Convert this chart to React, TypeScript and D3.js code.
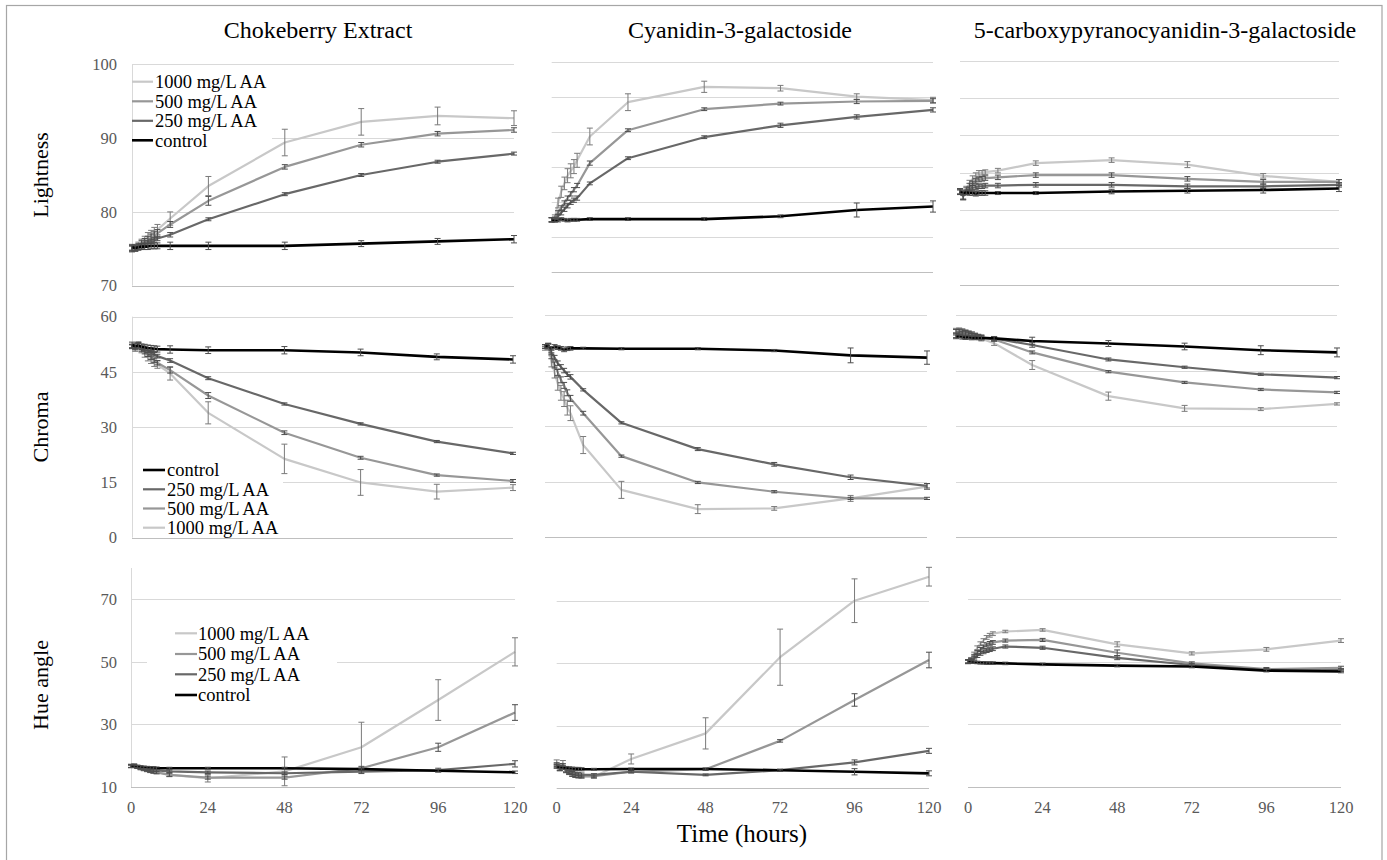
import React, { useEffect, useRef } from "react";
import * as d3 from "d3";

// sampling times (hours)
const times = [0, 1, 2, 3, 4, 5, 6, 7, 8, 12, 24, 48, 72, 96, 120];
const xTicks = [0, 24, 48, 72, 96, 120];

const columns = ["Chokeberry Extract", "Cyanidin-3-galactoside", "5-carboxypyranocyanidin-3-galactoside"];
const rows = ["Lightness", "Chroma", "Hue angle"];
const seriesNames = ["1000 mg/L AA", "500 mg/L AA", "250 mg/L AA", "control"];
const seriesColors = ["#c8c8c8", "#979797", "#686868", "#000000"];

// ---- Lightness ----
const lightCE1000 = [75.0, 75.1, 75.4, 75.8, 76.2, 76.6, 76.9, 77.2, 77.6, 79.1, 83.5, 89.4, 92.2, 93.0, 92.7];
const lightCE500 = [75.0, 75.1, 75.3, 75.6, 75.9, 76.2, 76.5, 76.8, 77.1, 78.3, 81.5, 86.1, 89.1, 90.6, 91.1];
const lightCE250 = [75.1, 75.0, 75.2, 75.4, 75.6, 75.8, 76.0, 76.2, 76.4, 76.9, 79.0, 82.4, 85.0, 86.8, 87.9];
const lightCEctl = [75.2, 75.1, 75.2, 75.3, 75.3, 75.3, 75.4, 75.4, 75.4, 75.4, 75.4, 75.4, 75.7, 76.0, 76.3];
const lightCE1000sd = [0.4, 0.4, 0.5, 0.5, 0.5, 0.6, 0.6, 0.7, 0.7, 0.9, 1.3, 1.8, 1.8, 1.2, 1.0];
const lightCE500sd = [0.4, 0.4, 0.4, 0.5, 0.5, 0.5, 0.5, 0.5, 0.5, 0.4, 0.6, 0.3, 0.3, 0.3, 0.3];
const lightCE250sd = [0.3, 0.3, 0.3, 0.3, 0.3, 0.3, 0.3, 0.3, 0.3, 0.3, 0.2, 0.2, 0.2, 0.2, 0.2];
const lightCEctlsd = [0.4, 0.4, 0.4, 0.4, 0.4, 0.4, 0.4, 0.4, 0.4, 0.5, 0.5, 0.5, 0.4, 0.4, 0.5];

const lightCy1000 = [77.5, 77.8, 79.9, 81.5, 82.7, 83.8, 84.5, 85.1, 86.0, 89.4, 94.3, 96.5, 96.3, 95.1, 94.6];
const lightCy500 = [77.5, 77.6, 78.5, 79.2, 79.9, 80.6, 81.2, 81.8, 82.4, 85.6, 90.3, 93.3, 94.1, 94.4, 94.5];
const lightCy250 = [77.5, 77.5, 78.0, 78.5, 79.0, 79.5, 80.0, 80.3, 80.6, 82.7, 86.3, 89.3, 91.0, 92.2, 93.2];
const lightCyctl = [77.5, 77.4, 77.4, 77.6, 77.5, 77.4, 77.5, 77.5, 77.5, 77.6, 77.6, 77.6, 78.0, 78.9, 79.4];
const lightCy1000sd = [0.3, 0.4, 0.7, 0.8, 0.9, 1.0, 1.0, 1.0, 1.0, 1.2, 1.2, 0.8, 0.4, 0.4, 0.4];
const lightCy500sd = [0.3, 0.3, 0.3, 0.3, 0.3, 0.3, 0.3, 0.3, 0.3, 0.3, 0.2, 0.2, 0.2, 0.3, 0.3];
const lightCy250sd = [0.3, 0.3, 0.3, 0.3, 0.3, 0.3, 0.3, 0.3, 0.3, 0.2, 0.2, 0.2, 0.3, 0.3, 0.3];
const lightCyctlsd = [0.3, 0.2, 0.2, 0.2, 0.2, 0.2, 0.2, 0.2, 0.2, 0.2, 0.2, 0.2, 0.2, 1.0, 0.8];

const lightPy1000 = [82.5, 81.9, 82.8, 83.6, 84.2, 84.6, 84.9, 85.0, 85.1, 85.3, 86.3, 86.7, 86.1, 84.6, 83.8];
const lightPy500 = [82.5, 81.9, 82.6, 83.2, 83.6, 83.9, 84.1, 84.2, 84.3, 84.4, 84.7, 84.7, 84.2, 83.8, 83.8];
const lightPy250 = [82.4, 81.9, 82.4, 82.8, 83.0, 83.1, 83.2, 83.2, 83.3, 83.3, 83.4, 83.4, 83.2, 83.2, 83.4];
const lightPyctl = [82.5, 82.3, 82.4, 82.3, 82.3, 82.2, 82.3, 82.3, 82.3, 82.3, 82.3, 82.5, 82.6, 82.7, 82.9];
const lightPy1000sd = [0.4, 0.5, 0.4, 0.4, 0.4, 0.4, 0.4, 0.3, 0.3, 0.3, 0.3, 0.3, 0.4, 0.3, 0.3];
const lightPy500sd = [0.4, 0.5, 0.4, 0.4, 0.3, 0.3, 0.3, 0.3, 0.3, 0.3, 0.3, 0.3, 0.3, 0.3, 0.3];
const lightPy250sd = [0.3, 0.4, 0.3, 0.3, 0.3, 0.3, 0.3, 0.3, 0.3, 0.3, 0.3, 0.3, 0.3, 0.3, 0.3];
const lightPyctlsd = [0.3, 0.3, 0.3, 0.3, 0.3, 0.3, 0.3, 0.3, 0.3, 0.2, 0.2, 0.3, 0.3, 0.4, 0.4];

// ---- Chroma ----
const chromaCE1000 = [51.8, 51.2, 52.5, 51.0, 50.0, 49.0, 48.3, 47.5, 47.0, 44.6, 33.9, 21.4, 15.0, 12.5, 13.6];
const chromaCE500 = [52.0, 51.5, 52.3, 51.2, 50.5, 49.8, 49.0, 48.2, 47.5, 45.5, 38.6, 28.5, 21.7, 17.0, 15.4];
const chromaCE250 = [52.0, 51.8, 52.2, 51.6, 51.2, 50.8, 50.3, 49.8, 49.3, 48.1, 43.3, 36.3, 30.9, 26.1, 22.9];
const chromaCEctl = [52.3, 52.0, 52.2, 51.8, 51.7, 51.5, 51.4, 51.3, 51.2, 51.1, 50.9, 50.9, 50.3, 49.1, 48.4];
const chromaCE1000sd = [0.5, 0.6, 0.7, 0.8, 1.0, 1.0, 1.0, 1.0, 1.0, 1.8, 3.0, 4.0, 3.5, 2.0, 0.8];
const chromaCE500sd = [0.5, 0.5, 0.6, 0.6, 0.6, 0.6, 0.6, 0.6, 0.6, 0.8, 0.8, 0.5, 0.4, 0.3, 0.4];
const chromaCE250sd = [0.5, 0.5, 0.5, 0.5, 0.5, 0.5, 0.5, 0.5, 0.5, 0.5, 0.4, 0.3, 0.3, 0.3, 0.3];
const chromaCEctlsd = [0.8, 0.8, 0.8, 0.8, 0.8, 0.8, 0.8, 0.8, 0.8, 1.0, 0.9, 1.0, 0.9, 0.8, 1.0];

const chromaCy1000 = [51.0, 51.5, 47.5, 44.5, 41.5, 39.0, 37.3, 35.0, 33.5, 24.9, 12.8, 7.6, 7.8, 10.5, 13.7];
const chromaCy500 = [51.5, 51.8, 49.0, 46.5, 44.5, 42.5, 41.0, 39.0, 37.5, 33.5, 21.9, 14.8, 12.3, 10.5, 10.5];
const chromaCy250 = [51.5, 51.8, 50.0, 48.5, 47.0, 46.0, 45.0, 44.0, 43.3, 39.8, 30.9, 23.8, 19.7, 16.2, 13.9];
const chromaCyctl = [51.5, 51.6, 51.0, 51.5, 51.2, 51.0, 50.6, 50.9, 51.0, 51.0, 50.9, 50.9, 50.4, 49.1, 48.5];
const chromaCy1000sd = [0.5, 0.8, 1.5, 1.5, 1.8, 2.0, 2.0, 2.0, 2.0, 2.3, 2.3, 1.2, 0.5, 0.8, 0.8];
const chromaCy500sd = [0.5, 0.6, 0.8, 0.8, 0.8, 0.8, 0.8, 0.8, 0.8, 0.5, 0.3, 0.3, 0.3, 0.3, 0.3];
const chromaCy250sd = [0.5, 0.5, 0.6, 0.6, 0.6, 0.6, 0.6, 0.6, 0.6, 0.3, 0.3, 0.4, 0.5, 0.6, 0.6];
const chromaCyctlsd = [0.5, 0.5, 0.5, 0.5, 0.5, 0.5, 0.5, 0.5, 0.5, 0.3, 0.3, 0.3, 0.3, 2.0, 1.8];

const chromaPy1000 = [55.8, 55.9, 55.7, 55.4, 55.1, 54.8, 54.4, 54.0, 53.6, 52.4, 46.5, 38.1, 34.8, 34.6, 36.0];
const chromaPy500 = [55.5, 55.6, 55.4, 55.2, 55.0, 54.8, 54.5, 54.2, 54.0, 53.4, 49.9, 44.7, 41.8, 39.9, 39.1];
const chromaPy250 = [54.5, 54.8, 55.0, 54.8, 54.6, 54.4, 54.2, 54.0, 53.9, 53.7, 51.9, 48.0, 45.9, 44.0, 43.1];
const chromaPyctl = [54.1, 54.3, 54.0, 53.9, 54.0, 53.8, 53.9, 53.8, 53.8, 53.7, 53.0, 52.3, 51.5, 50.5, 49.9];
const chromaPy1000sd = [0.6, 0.6, 0.6, 0.6, 0.6, 0.6, 0.6, 0.6, 0.6, 0.6, 1.2, 1.1, 0.8, 0.4, 0.3];
const chromaPy500sd = [0.6, 0.6, 0.6, 0.6, 0.6, 0.6, 0.6, 0.6, 0.6, 0.5, 0.4, 0.3, 0.3, 0.3, 0.3];
const chromaPy250sd = [0.6, 0.6, 0.6, 0.6, 0.6, 0.6, 0.6, 0.6, 0.6, 0.5, 0.6, 0.4, 0.3, 0.3, 0.3];
const chromaPyctlsd = [0.5, 0.5, 0.5, 0.5, 0.5, 0.5, 0.5, 0.5, 0.5, 0.5, 1.0, 0.8, 0.9, 1.2, 1.2];

// ---- Hue angle ----
const hueCE1000 = [16.8, 16.9, 16.5, 16.2, 15.9, 15.6, 15.3, 15.0, 14.8, 13.9, 12.8, 15.0, 22.7, 37.8, 53.2];
const hueCE500 = [16.7, 16.8, 16.4, 16.0, 15.7, 15.4, 15.1, 14.9, 14.7, 13.9, 13.0, 13.0, 16.0, 22.7, 33.8];
const hueCE250 = [16.6, 16.8, 16.4, 16.1, 15.9, 15.7, 15.5, 15.4, 15.3, 15.0, 14.7, 14.4, 14.9, 15.4, 17.4];
const hueCEctl = [16.6, 16.7, 16.5, 16.4, 16.3, 16.2, 16.1, 16.1, 16.0, 16.0, 16.0, 16.0, 15.7, 15.2, 14.7];
const hueCE1000sd = [0.5, 0.5, 0.5, 0.5, 0.5, 0.5, 0.5, 0.5, 0.5, 0.6, 1.2, 4.6, 8.0, 6.5, 4.5];
const hueCE500sd = [0.5, 0.5, 0.5, 0.5, 0.5, 0.5, 0.5, 0.5, 0.5, 0.5, 0.5, 0.5, 0.6, 1.3, 2.5];
const hueCE250sd = [0.4, 0.4, 0.4, 0.4, 0.4, 0.4, 0.4, 0.4, 0.4, 0.4, 0.4, 0.4, 0.6, 0.6, 1.0];
const hueCEctlsd = [0.4, 0.4, 0.4, 0.4, 0.4, 0.4, 0.4, 0.4, 0.4, 0.3, 0.3, 0.3, 0.3, 0.4, 0.4];

const hueCy1000 = [18.4, 17.0, 17.8, 16.0, 15.2, 14.5, 14.0, 13.7, 13.6, 13.6, 19.3, 27.5, 51.9, 70.0, 77.7];
const hueCy500 = [17.5, 16.2, 17.2, 15.5, 14.8, 14.2, 13.9, 13.8, 13.8, 13.8, 15.2, 16.0, 25.1, 38.2, 51.0];
const hueCy250 = [17.0, 16.0, 16.8, 15.6, 15.2, 14.8, 14.6, 14.4, 14.3, 14.2, 15.2, 14.2, 15.7, 18.2, 21.9];
const hueCyctl = [16.8, 16.6, 16.5, 16.4, 16.3, 16.2, 16.1, 16.1, 16.0, 16.0, 16.1, 16.1, 15.7, 15.2, 14.7];
const hueCy1000sd = [0.6, 0.8, 1.0, 0.8, 0.7, 0.6, 0.5, 0.5, 0.5, 0.5, 1.6, 5.0, 9.0, 7.0, 3.0];
const hueCy500sd = [0.6, 0.6, 0.6, 0.6, 0.5, 0.5, 0.5, 0.5, 0.5, 0.5, 0.4, 0.3, 0.4, 2.0, 2.5];
const hueCy250sd = [0.5, 0.5, 0.5, 0.5, 0.5, 0.5, 0.5, 0.5, 0.5, 0.4, 0.3, 0.3, 0.3, 0.8, 0.8];
const hueCyctlsd = [0.5, 0.5, 0.5, 0.5, 0.5, 0.5, 0.5, 0.5, 0.5, 0.3, 0.3, 0.3, 0.3, 1.0, 0.8];

const huePy1000 = [50.1, 50.8, 52.5, 54.5, 55.8, 56.8, 57.8, 58.5, 59.0, 59.7, 60.2, 55.6, 52.7, 54.0, 56.8];
const huePy500 = [50.1, 50.5, 51.8, 53.0, 54.0, 54.8, 55.4, 55.9, 56.2, 56.8, 57.0, 52.9, 49.5, 47.7, 48.1];
const huePy250 = [50.0, 50.3, 51.2, 52.0, 52.7, 53.2, 53.6, 53.9, 54.2, 54.9, 54.5, 51.3, 49.0, 47.4, 47.4];
const huePyctl = [50.1, 50.0, 49.9, 49.8, 49.7, 49.7, 49.6, 49.6, 49.6, 49.5, 49.2, 48.8, 48.5, 47.2, 46.9];
const huePy1000sd = [0.6, 0.6, 0.6, 0.6, 0.6, 0.6, 0.6, 0.6, 0.6, 0.4, 0.4, 0.8, 0.5, 0.6, 0.6];
const huePy500sd = [0.6, 0.6, 0.6, 0.6, 0.6, 0.6, 0.6, 0.6, 0.6, 0.5, 0.5, 0.9, 0.5, 0.5, 0.5];
const huePy250sd = [0.6, 0.6, 0.6, 0.6, 0.6, 0.6, 0.6, 0.6, 0.6, 0.5, 0.5, 0.6, 0.5, 0.5, 0.5];
const huePyctlsd = [0.4, 0.4, 0.4, 0.4, 0.4, 0.4, 0.4, 0.4, 0.4, 0.4, 0.4, 0.4, 0.4, 0.4, 0.4];

const FONT = "'Liberation Serif', 'Times New Roman', serif";

function App() {
  const ref = useRef<SVGSVGElement>(null);

  useEffect(() => {
    const svg = d3.select(ref.current);
    svg.selectAll("*").remove();

    // panels: one Excel chart each, slightly different plot areas
    const panels = [
      { row: 0, col: 0, x: [132, 514], y: [285.7, 64.3], dom: [70, 100], grid: [70, 80, 90, 100], labels: true,
        series: [lightCE1000, lightCE500, lightCE250, lightCEctl], sd: [lightCE1000sd, lightCE500sd, lightCE250sd, lightCEctlsd] },
      { row: 0, col: 1, x: [551.7, 933], y: [272.3, 62.3], dom: [70, 100], grid: [70, 75, 80, 85, 90, 95, 100], labels: false,
        series: [lightCy1000, lightCy500, lightCy250, lightCyctl], sd: [lightCy1000sd, lightCy500sd, lightCy250sd, lightCyctlsd] },
      { row: 0, col: 2, x: [960, 1339], y: [285, 60.7], dom: [70, 100], grid: [70, 75, 80, 85, 90, 95, 100], labels: false,
        series: [lightPy1000, lightPy500, lightPy250, lightPyctl], sd: [lightPy1000sd, lightPy500sd, lightPy250sd, lightPyctlsd] },
      { row: 1, col: 0, x: [132, 513], y: [537.7, 316.7], dom: [0, 60], grid: [0, 15, 30, 45, 60], labels: true,
        series: [chromaCE1000, chromaCE500, chromaCE250, chromaCEctl], sd: [chromaCE1000sd, chromaCE500sd, chromaCE250sd, chromaCEctlsd] },
      { row: 1, col: 1, x: [545, 927], y: [537.3, 315], dom: [0, 60], grid: [0, 15, 30, 45, 60], labels: false,
        series: [chromaCy1000, chromaCy500, chromaCy250, chromaCyctl], sd: [chromaCy1000sd, chromaCy500sd, chromaCy250sd, chromaCyctlsd] },
      { row: 1, col: 2, x: [956, 1337], y: [537.3, 315], dom: [0, 60], grid: [0, 15, 30, 45, 60], labels: false,
        series: [chromaPy1000, chromaPy500, chromaPy250, chromaPyctl], sd: [chromaPy1000sd, chromaPy500sd, chromaPy250sd, chromaPyctlsd] },
      { row: 2, col: 0, x: [131, 515], y: [787, 568], dom: [10, 80], grid: [10, 30, 50, 70], labels: true,
        series: [hueCE1000, hueCE500, hueCE250, hueCEctl], sd: [hueCE1000sd, hueCE500sd, hueCE250sd, hueCEctlsd] },
      { row: 2, col: 1, x: [556.7, 929], y: [788, 569.5], dom: [10, 80], grid: [10, 30, 50, 70], labels: false,
        series: [hueCy1000, hueCy500, hueCy250, hueCyctl], sd: [hueCy1000sd, hueCy500sd, hueCy250sd, hueCyctlsd] },
      { row: 2, col: 2, x: [968, 1341], y: [787, 568], dom: [10, 80], grid: [10, 30, 50, 70], labels: false,
        series: [huePy1000, huePy500, huePy250, huePyctl], sd: [huePy1000sd, huePy500sd, huePy250sd, huePyctlsd] },
    ];

    // outer frame
    svg.append("rect")
      .attr("x", 6.5).attr("y", 5.5).attr("width", 1375.5).attr("height", 870)
      .attr("fill", "none").attr("stroke", "#a6a6a6").attr("stroke-width", 1.2);

    // legends (white boxes hide the gridlines)
    const legends = [
      { row: 0, box: [133, 68, 139, 82], lineX: [132, 153], textX: 155, ys: [81.7, 101.3, 120.8, 140.3], order: [0, 1, 2, 3] },
      { row: 1, box: [133, 460, 150, 76], lineX: [143, 165], textX: 167, ys: [470, 489.3, 508.5, 527.7], order: [3, 2, 1, 0] },
      { row: 2, box: [147, 622, 190, 84], lineX: [175, 197], textX: 198, ys: [633.3, 654, 674.3, 695], order: [0, 1, 2, 3] },
    ];

    panels.forEach(p => {
      const x = d3.scaleLinear().domain([0, 120]).range(p.x);
      const y = d3.scaleLinear().domain(p.dom).range(p.y);
      const g = svg.append("g");

      // gridlines
      g.selectAll(".grid").data(p.grid).enter().append("line")
        .attr("x1", p.x[0]).attr("x2", p.x[1])
        .attr("y1", d => Math.round(y(d)) + 0.5).attr("y2", d => Math.round(y(d)) + 0.5)
        .attr("stroke", (d, i) => i === 0 ? "#bfbfbf" : "#d9d9d9")
        .attr("stroke-width", 1);

      if (p.labels) {
        // vertical axis line on first column
        g.append("line")
          .attr("x1", p.x[0] + 0.5).attr("x2", p.x[0] + 0.5)
          .attr("y1", y(p.dom[1])).attr("y2", y(p.dom[0]))
          .attr("stroke", "#d9d9d9");
        g.selectAll(".ytick").data(p.grid).enter().append("text")
          .attr("x", 117).attr("y", d => y(d))
          .attr("dy", "0.35em")
          .attr("text-anchor", "end")
          .attr("font-family", FONT).attr("font-size", 16.5).attr("fill", "#595959")
          .text(d => d);
      }

      if (p.row === 2) {
        g.selectAll(".xtick").data(xTicks).enter().append("text")
          .attr("x", d => x(d)).attr("y", 807)
          .attr("dy", "0.35em")
          .attr("text-anchor", "middle")
          .attr("font-family", FONT).attr("font-size", 16.5).attr("fill", "#595959")
          .text(d => d);
      }

      // legend background sits over gridlines
      const lg = legends.find(l => l.row === p.row);
      if (p.col === 0 && lg) {
        g.append("rect")
          .attr("x", lg.box[0]).attr("y", lg.box[1]).attr("width", lg.box[2]).attr("height", lg.box[3])
          .attr("fill", "#fff");
      }

      const line = d3.line<number>()
        .x((d, i) => x(times[i]))
        .y(d => y(d));

      // draw light series first, control on top
      p.series.forEach((vals, si) => {
        g.append("path")
          .datum(vals)
          .attr("d", line)
          .attr("fill", "none")
          .attr("stroke", seriesColors[si])
          .attr("stroke-width", si === 3 ? 2.6 : 2.2)
          .attr("stroke-linejoin", "round");

        const eb = g.append("g")
          .attr("stroke", si === 0 ? "#7a7a7a" : "#4d4d4d")
          .attr("stroke-width", 1);
        vals.forEach((v, i) => {
          const cx = x(times[i]);
          const lo = y(v - p.sd[si][i]);
          const hi = y(v + p.sd[si][i]);
          eb.append("line").attr("x1", cx).attr("x2", cx).attr("y1", lo).attr("y2", hi);
          eb.append("line").attr("x1", cx - 3).attr("x2", cx + 3).attr("y1", lo).attr("y2", lo);
          eb.append("line").attr("x1", cx - 3).attr("x2", cx + 3).attr("y1", hi).attr("y2", hi);
        });
      });
    });

    // legend entries
    legends.forEach(lg => {
      lg.order.forEach((si, k) => {
        svg.append("line")
          .attr("x1", lg.lineX[0]).attr("x2", lg.lineX[1])
          .attr("y1", lg.ys[k]).attr("y2", lg.ys[k])
          .attr("stroke", seriesColors[si])
          .attr("stroke-width", si === 3 ? 2.6 : 2.2);
        svg.append("text")
          .attr("x", lg.textX).attr("y", lg.ys[k])
          .attr("dy", "0.35em")
          .attr("font-family", FONT).attr("font-size", 18.5).attr("fill", "#000")
          .text(seriesNames[si]);
      });
    });

    // column titles
    const colCenters = [318, 740, 1165];
    svg.selectAll(".coltitle").data(columns).enter().append("text")
      .attr("x", (d, i) => colCenters[i]).attr("y", 38)
      .attr("text-anchor", "middle")
      .attr("font-family", FONT).attr("font-size", 24).attr("fill", "#000")
      .text(d => d);

    // row titles
    const rowCenters = [175, 427, 685];
    svg.selectAll(".rowtitle").data(rows).enter().append("text")
      .attr("transform", (d, i) => `translate(48,${rowCenters[i]}) rotate(-90)`)
      .attr("text-anchor", "middle")
      .attr("font-family", FONT).attr("font-size", 22).attr("fill", "#000")
      .text(d => d);

    // x axis title
    svg.append("text")
      .attr("x", 742).attr("y", 842)
      .attr("text-anchor", "middle")
      .attr("font-family", FONT).attr("font-size", 25).attr("fill", "#000")
      .text("Time (hours)");
  }, []);

  return (
    <svg ref={ref} width={1387} height={860}
      style={{ position: "absolute", left: 0, top: 0, background: "#fff" }} />
  );
}

export default App;
